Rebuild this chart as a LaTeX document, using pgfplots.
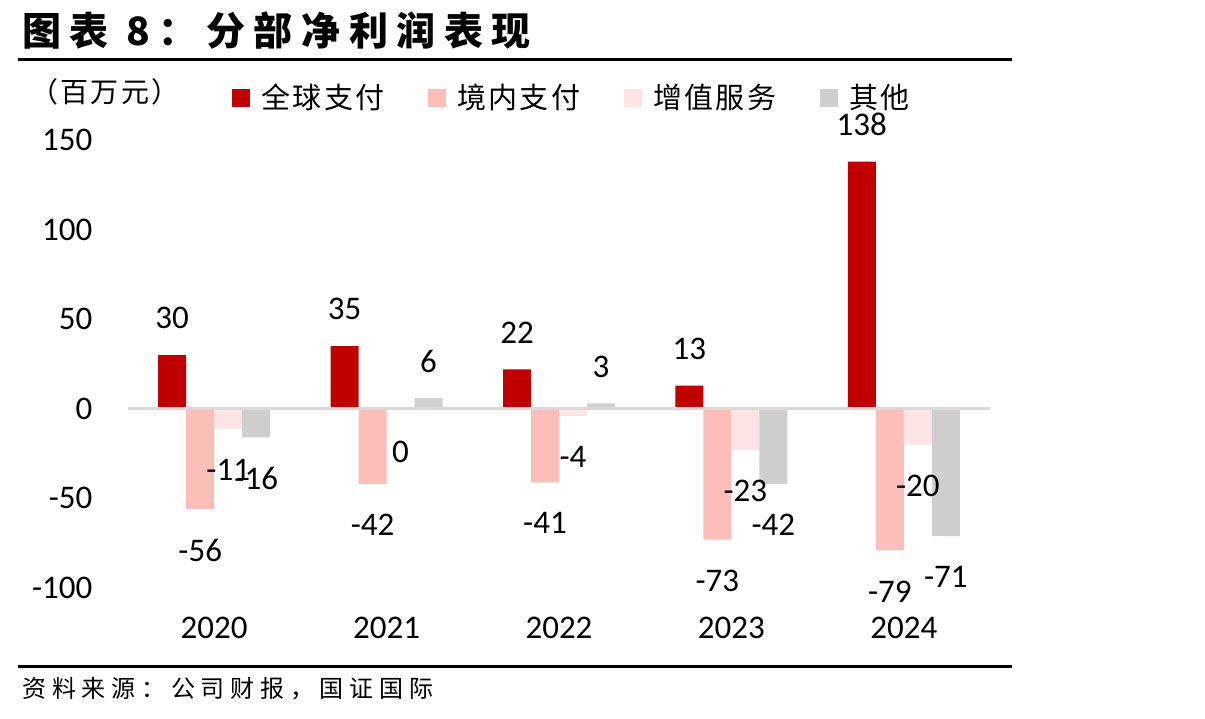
\documentclass[border=0pt]{standalone}
\usepackage{pgfplots}
\usepackage{pgfplotstable}
\pgfplotsset{compat=1.18}
\usepackage{fontspec}
\setmainfont{Carlito}
\newfontfamily\cjk[LetterSpace=8]{Noto Sans CJK SC}
\newfontfamily\srcfont[LetterSpace=24]{Noto Sans CJK SC}
\newfontfamily\titlefont[LetterSpace=22]{Noto Sans CJK SC}
\definecolor{cA}{HTML}{C00000}
\definecolor{cB}{HTML}{FBBEB9}
\definecolor{cC}{HTML}{FDE4E4}
\definecolor{cD}{HTML}{D0CECE}
\definecolor{zline}{HTML}{D9D9D9}

\pgfplotstableread{
x y lbl off
0 30 30 18.5
1 35 35 18.5
2 22 22 18.5
3 13 13 18.5
4 138 138 18.5
}\tA
\pgfplotstableread{
x y lbl off
0 -56 -56 -20.5
1 -42 -42 -20.5
2 -41 -41 -20.5
3 -73 -73 -20.5
4 -79 -79 -20.5
}\tB
\pgfplotstableread{
x y lbl off
0 -11 -11 -20.5
1 0 0 -21.5
2 -4 -4 -20.5
3 -23 -23 -20.5
4 -20 -20 -20.5
}\tC
\pgfplotstableread{
x y lbl off
0 -16 -16 -20.5
1 6 6 18.5
2 3 3 18.5
3 -42 -42 -20.5
4 -71 -71 -20.5
}\tD

\begin{document}
\begin{tikzpicture}[x=0.5pt,y=0.5pt]
\useasboundingbox (0,0) rectangle (1205,718);
\node[anchor=west,inner sep=0pt] at (22,687) {\titlefont\bfseries\fontsize{19.5}{22}\selectfont 图表 8：分部净利润表现};
\draw[line width=1.5pt] (18,658) -- (1012,658);
\node[anchor=west,inner sep=0pt] at (30,626) {\cjk\fontsize{14}{16}\selectfont （百万元）};
\draw[line width=1.5pt] (18,52) -- (1012,52);
\node[anchor=west,inner sep=0pt] at (22,29) {\srcfont\fontsize{12}{14}\selectfont 资料来源：公司财报，国证国际};
\begin{axis}[
  at={(64pt,65pt)}, anchor=south west,
  scale only axis, width=431pt, height=224pt,
  xmin=-0.5, xmax=4.5, ymin=-100, ymax=150,
  ybar=0pt, bar width=14pt,
  xtick={0,1,2,3,4}, xticklabels={2020,2021,2022,2023,2024},
  ytick={-100,-50,0,50,100,150}, yticklabels={-100,-50,0,50,100,150},
  axis line style={draw=none}, major tick length=0pt,
  clip=false,
  tick label style={font=\fontsize{16.5}{18}\selectfont},
  xticklabel style={yshift=-10.9pt},
  yticklabel style={xshift=-14.3pt},
  point meta=explicit symbolic,
  nodes near coords,
  visualization depends on={\thisrow{off} \as \off},
  every node near coord/.append style={anchor=center, yshift=\off*1pt, font=\fontsize{16.5}{18}\selectfont, text=black},
  legend columns=4,
  legend style={at={(0.1206,1.0938)}, anchor=west, draw=none, fill=none, inner sep=0pt,
    font=\cjk\fontsize{14.5}{16}\selectfont,
    /tikz/every even column/.append style={column sep=20pt}},
  legend image code/.code={\fill[#1] (0pt,-4.5pt) rectangle (9pt,4.5pt); \path (12.5pt,0pt);},
]
\addplot[fill=cA, draw=none] table[x=x, y=y, meta=lbl] {\tA};
\addlegendentry{全球支付}
\addplot[fill=cB, draw=none] table[x=x, y=y, meta=lbl] {\tB};
\addlegendentry{境内支付}
\addplot[fill=cC, draw=none] table[x=x, y=y, meta=lbl] {\tC};
\addlegendentry{增值服务}
\addplot[fill=cD, draw=none] table[x=x, y=y, meta=lbl] {\tD};
\addlegendentry{其他}
\draw[zline, line width=1.5pt] (axis cs:-0.5,0) -- (axis cs:4.5,0);
\end{axis}
\end{tikzpicture}
\end{document}
